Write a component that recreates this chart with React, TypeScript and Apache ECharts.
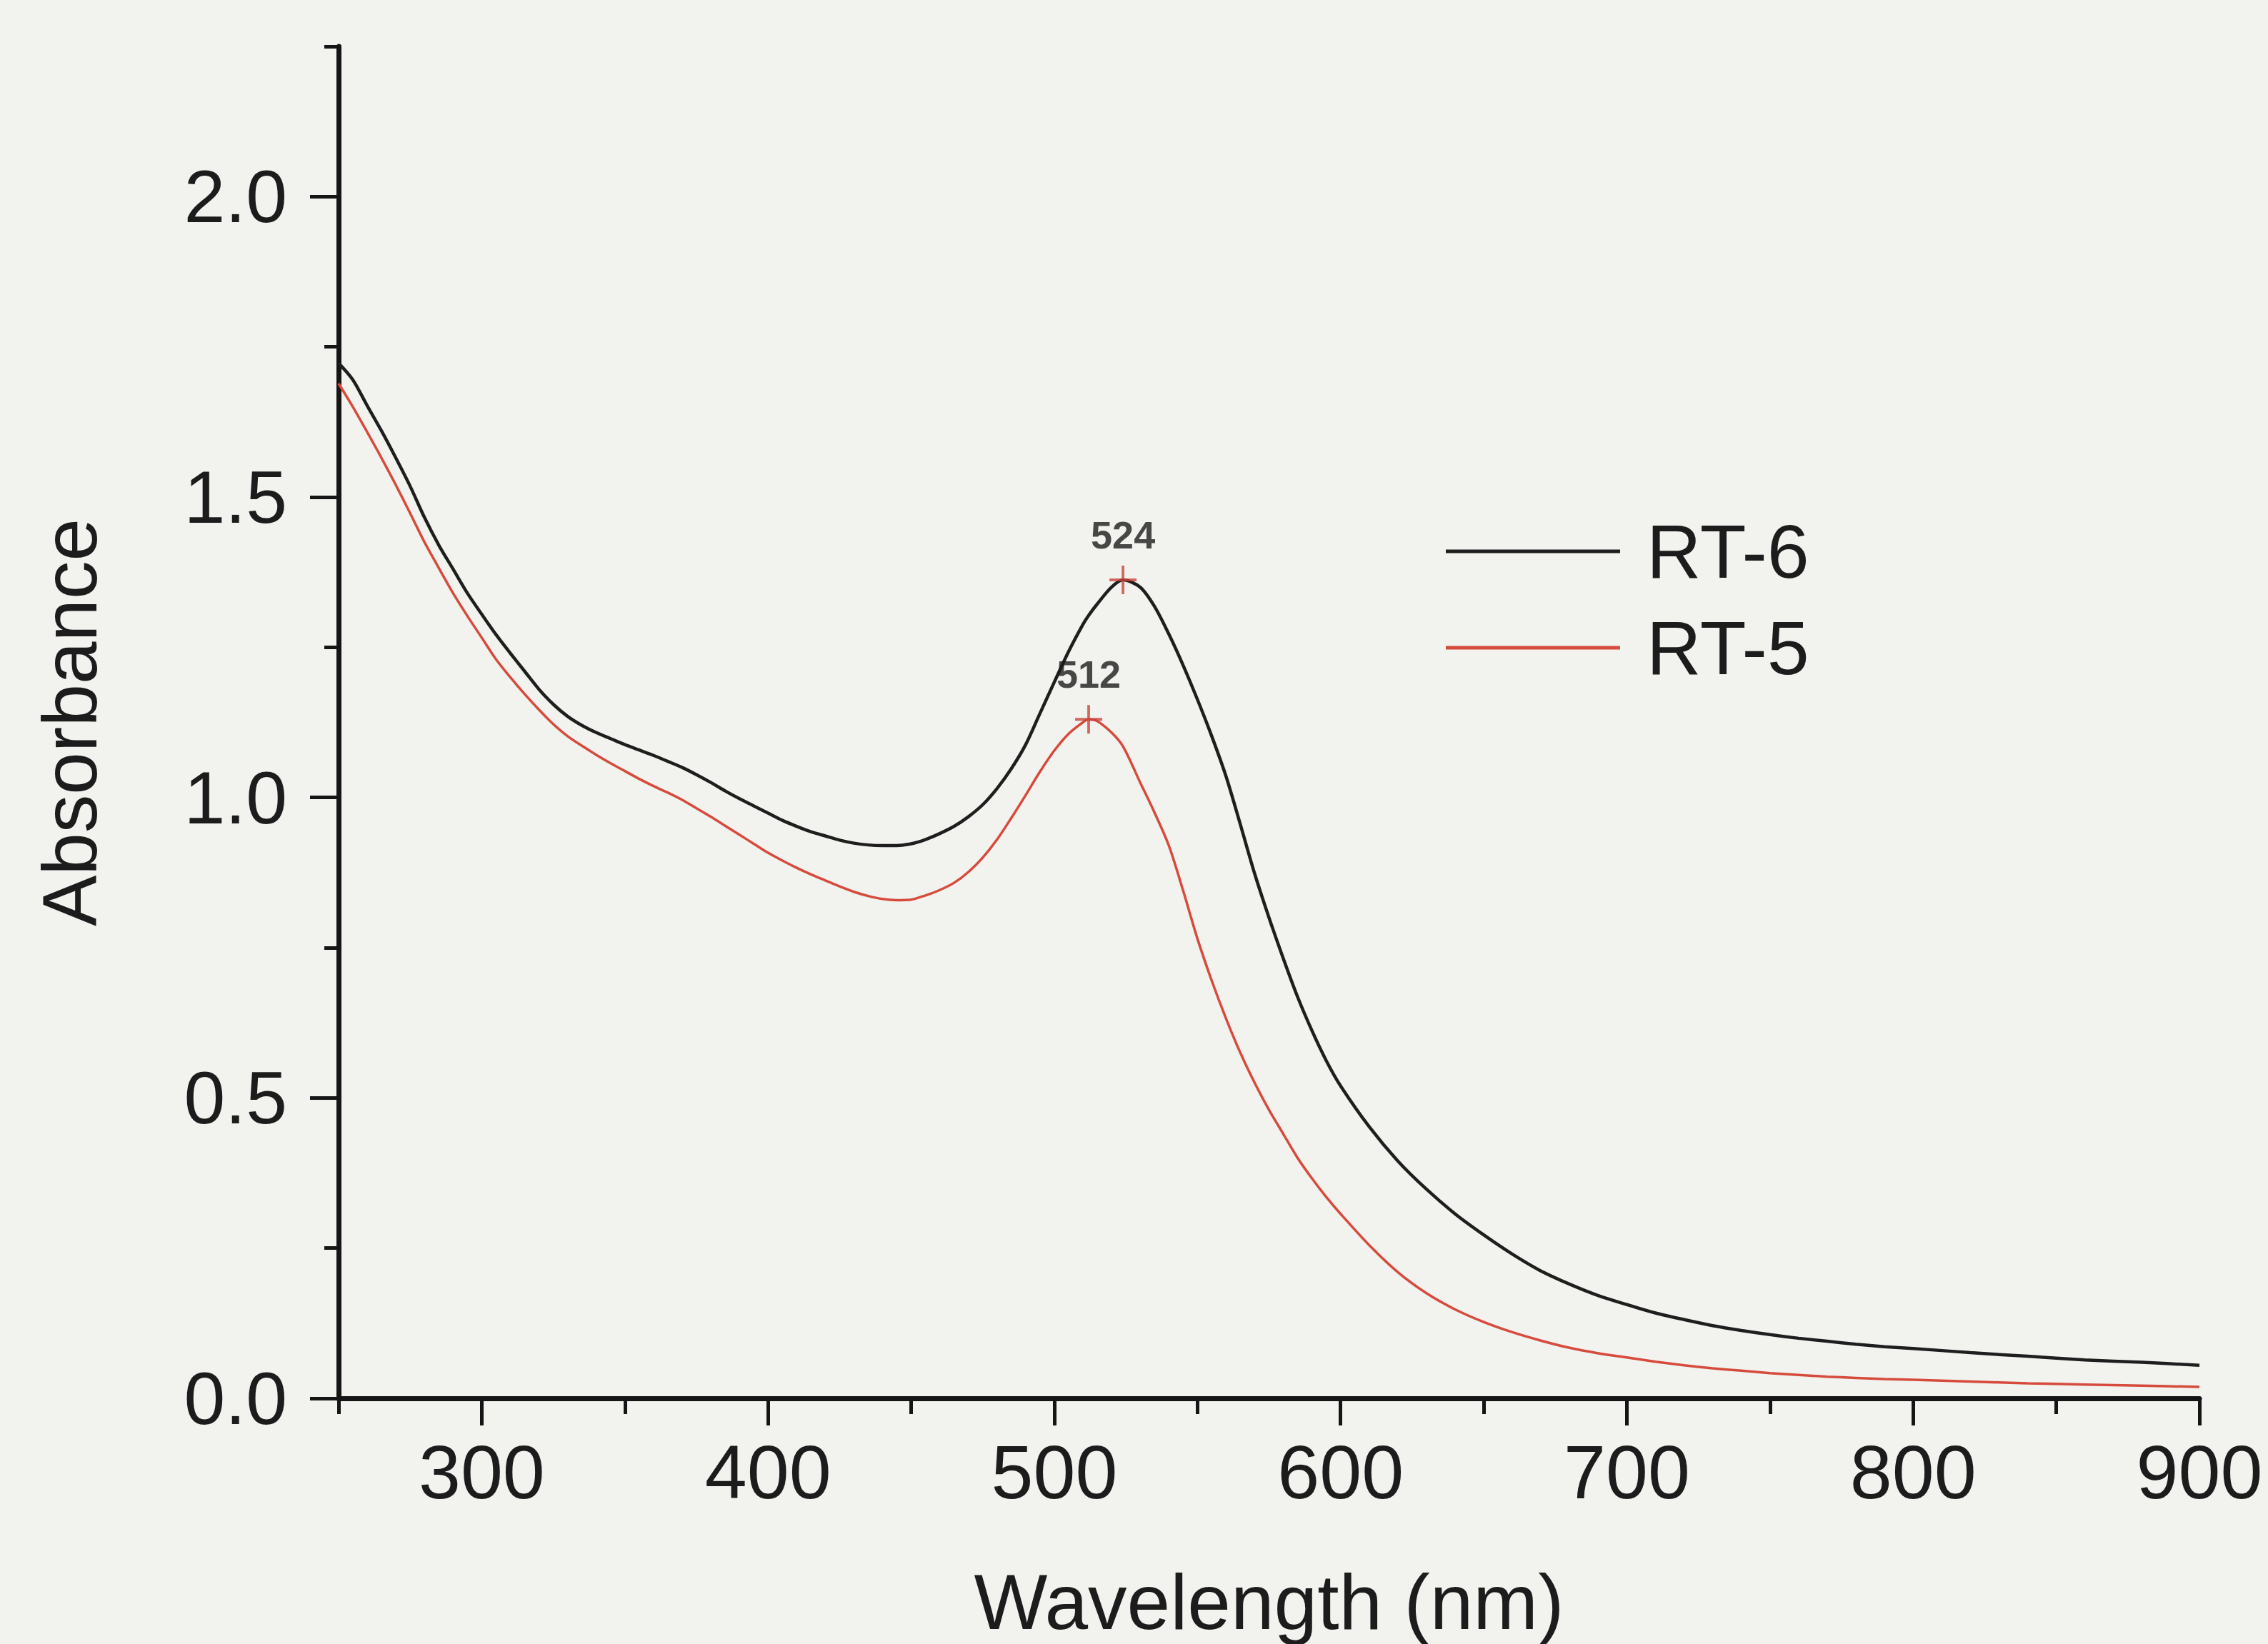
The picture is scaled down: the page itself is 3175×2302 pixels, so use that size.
import React, { useEffect, useRef } from "react";
import * as echarts from "echarts";

const wavelengths = [
  250, 255, 260, 265, 270, 275, 280, 285, 290, 295, 300, 305, 310, 315, 320, 325, 330, 335, 340, 345,
  350, 355, 360, 365, 370, 375, 380, 385, 390, 395, 400, 405, 410, 415, 420, 425, 430, 435, 440, 445,
  450, 455, 460, 465, 470, 475, 480, 485, 490, 495, 500, 505, 510, 512, 515, 520, 524, 530, 535, 540,
  545, 550, 555, 560, 565, 570, 575, 580, 585, 590, 595, 600, 610, 620, 630, 640, 650, 660, 670, 680,
  690, 700, 710, 720, 730, 740, 750, 760, 770, 780, 790, 800, 820, 840, 860, 880, 900,
];

const rt6 = [
  1.723, 1.695, 1.652, 1.61, 1.565, 1.518, 1.466, 1.42, 1.38, 1.34, 1.305, 1.271, 1.24, 1.21, 1.18, 1.155, 1.135, 1.12, 1.108, 1.098,
  1.088, 1.079, 1.07, 1.06, 1.05, 1.038, 1.025, 1.011, 0.998, 0.986, 0.974, 0.962, 0.952, 0.943, 0.936, 0.929, 0.924, 0.921, 0.92, 0.92,
  0.923, 0.93, 0.94, 0.952, 0.968, 0.988, 1.015, 1.048, 1.088, 1.14, 1.192, 1.243, 1.288, 1.303, 1.322, 1.35, 1.362, 1.35, 1.318, 1.272,
  1.22, 1.163, 1.102, 1.035, 0.955, 0.873, 0.8, 0.732, 0.668, 0.612, 0.562, 0.52, 0.452, 0.395, 0.348, 0.307, 0.272, 0.24, 0.212, 0.19,
  0.171, 0.156, 0.142, 0.131, 0.121, 0.113, 0.106, 0.1, 0.095, 0.09, 0.086, 0.083, 0.076, 0.07, 0.064, 0.06, 0.055,
];

const rt5 = [
  1.689, 1.65, 1.608, 1.565, 1.52, 1.473, 1.425, 1.382, 1.34, 1.302, 1.266, 1.23, 1.2, 1.172, 1.146, 1.122, 1.102, 1.086, 1.071, 1.057,
  1.044, 1.031, 1.019, 1.008, 0.996, 0.982, 0.968, 0.953, 0.938, 0.923, 0.908, 0.895, 0.883, 0.872, 0.862, 0.852, 0.843, 0.836, 0.831, 0.829,
  0.83, 0.837, 0.846, 0.858, 0.876, 0.9, 0.93, 0.966, 1.004, 1.043, 1.078, 1.106, 1.125, 1.13, 1.127, 1.108, 1.085, 1.025, 0.975, 0.92,
  0.845, 0.765, 0.695, 0.632, 0.575, 0.525, 0.48, 0.44, 0.4, 0.366, 0.335, 0.307, 0.255, 0.21, 0.175, 0.148, 0.127, 0.11, 0.096, 0.084,
  0.075, 0.068, 0.061, 0.055, 0.05, 0.046, 0.042, 0.039, 0.036, 0.034, 0.032, 0.031, 0.028, 0.025, 0.023, 0.021, 0.019,
];

const peakWavelengths = [524, 512];
const peakValues = [1.362, 1.13];
const peakLabels = ["524", "512"];

const seriesNames = ["RT-6", "RT-5"];
const seriesColors = ["#1e1e1e", "#d64b3c"];

const xMajorTicks = [300, 400, 500, 600, 700, 800, 900];
const xMinorTicks = [250, 350, 450, 550, 650, 750, 850];
const yMajorTicks = [0, 0.5, 1.0, 1.5, 2.0];
const yMinorTicks = [0.25, 0.75, 1.25, 1.75, 2.25];

const FONT = "'Liberation Sans', Arial, Helvetica, sans-serif";
const TEXT = "#1c1c1c";
const AXIS = "#151515";
const CROSS = "path://M9,0 L11,0 L11,9 L20,9 L20,11 L11,11 L11,20 L9,20 L9,11 L0,11 L0,9 L9,9 Z";

export default function App() {
  const ref = useRef<HTMLDivElement>(null);

  useEffect(() => {
    if (!ref.current) return;
    const chart = echarts.init(ref.current, null, { renderer: "svg" });

    const pairs = (vals: number[]) => wavelengths.map((w, i) => [w, vals[i]]);
    const peaks = peakWavelengths.map((w, i) => ({ value: [w, peakValues[i]], name: peakLabels[i] }));

    chart.setOption({
      animation: false,
      backgroundColor: "#f2f2ef",
      grid: { left: 474, right: 96, top: 65, bottom: 334 },
      legend: {
        data: seriesNames,
        orient: "vertical",
        left: 2024,
        top: 719,
        padding: 0,
        itemGap: 29,
        itemWidth: 244,
        itemHeight: 5,
        icon: "rect",
        textStyle: {
          fontFamily: FONT,
          fontSize: 106,
          lineHeight: 106,
          color: TEXT,
          padding: [0, 0, 0, 32],
        },
      },
      xAxis: [
        {
          type: "value",
          min: 250,
          max: 900,
          position: "bottom",
          name: "Wavelength (nm)",
          nameLocation: "middle",
          nameGap: 230,
          nameTextStyle: { fontFamily: FONT, fontSize: 109, color: TEXT },
          axisLine: { show: true, onZero: false, lineStyle: { color: AXIS, width: 7 } },
          axisTick: { show: true, customValues: xMajorTicks, length: 38, lineStyle: { color: AXIS, width: 5 } },
          axisLabel: {
            show: true,
            customValues: xMajorTicks,
            margin: 50,
            fontFamily: FONT,
            fontSize: 106,
            color: TEXT,
          },
          splitLine: { show: false },
        },
        {
          type: "value",
          min: 250,
          max: 900,
          position: "bottom",
          axisLine: { show: false, onZero: false },
          axisTick: { show: true, customValues: xMinorTicks, length: 22, lineStyle: { color: AXIS, width: 5 } },
          axisLabel: { show: false },
          splitLine: { show: false },
        },
      ],
      yAxis: [
        {
          type: "value",
          min: 0,
          max: 2.25,
          position: "left",
          name: "Absorbance",
          nameLocation: "middle",
          nameGap: 323,
          nameTextStyle: { fontFamily: FONT, fontSize: 107, color: TEXT },
          axisLine: { show: true, onZero: false, lineStyle: { color: AXIS, width: 7 } },
          axisTick: { show: true, customValues: yMajorTicks, length: 40, lineStyle: { color: AXIS, width: 5 } },
          axisLabel: {
            show: true,
            customValues: yMajorTicks,
            margin: 72,
            fontFamily: FONT,
            fontSize: 104,
            color: TEXT,
            formatter: (v: number) => v.toFixed(1),
          },
          splitLine: { show: false },
        },
        {
          type: "value",
          min: 0,
          max: 2.25,
          position: "left",
          axisLine: { show: false, onZero: false },
          axisTick: { show: true, customValues: yMinorTicks, length: 20, lineStyle: { color: AXIS, width: 5 } },
          axisLabel: { show: false },
          splitLine: { show: false },
        },
      ],
      series: [
        {
          name: seriesNames[0],
          type: "line",
          data: pairs(rt6),
          symbol: "none",
          smooth: 0.3,
          color: seriesColors[0],
          lineStyle: { color: seriesColors[0], width: 4.5 },
          z: 3,
        },
        {
          name: seriesNames[1],
          type: "line",
          data: pairs(rt5),
          symbol: "none",
          smooth: 0.3,
          color: seriesColors[1],
          lineStyle: { color: seriesColors[1], width: 3.5 },
          z: 3,
        },
        {
          name: "peaks",
          type: "scatter",
          data: peaks,
          symbol: CROSS,
          symbolSize: [38, 40],
          itemStyle: { color: "#c9433a" },
          z: 4,
          label: {
            show: true,
            position: "top",
            distance: 16,
            formatter: (p: any) => p.name,
            fontFamily: FONT,
            fontSize: 54,
            fontWeight: "bold",
            color: TEXT,
          },
        },
      ],
    });

    return () => chart.dispose();
  }, []);

  return (
    <div
      ref={ref}
      style={{ position: "fixed", left: 0, top: 0, width: 3175, height: 2302 }}
    />
  );
}
